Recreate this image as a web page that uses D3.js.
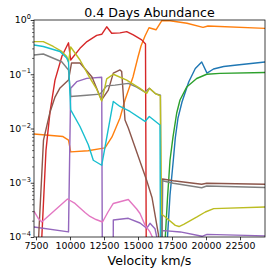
<!DOCTYPE html>
<html>
<head>
<meta charset="utf-8">
<script src="https://cdn.jsdelivr.net/npm/d3@7"></script>
<style>
  body { margin: 0; background: #fff; }
  text { font-family: "DejaVu Sans", sans-serif; }
</style>
</head>
<body>
<script>
// velocity (km/s), abundance pairs
const blue = [[16985, 6.9e-6], [17169, 1.0e-4], [17353, 5.9e-4], [17596, 2.6e-3], [17743, 6.7e-3],
  [17941, 0.0156], [18235, 0.0308], [18728, 0.072], [19213, 0.128], [19684, 0.168], [20074, 0.105],
  [20552, 0.125], [21301, 0.139], [22279, 0.148], [24338, 0.168]];
const orange = [[7353, 0.0079], [9485, 0.0071], [9890, 0.0061], [10051, 0.0037], [11324, 0.0039],
  [12353, 0.0043], [12574, 0.0044], [13088, 0.0070], [13676, 0.0156], [14044, 0.0335], [14632, 0.089],
  [15000, 0.208], [15221, 0.332], [15515, 0.507], [15809, 0.72], [16324, 0.66], [16765, 0.98],
  [17353, 0.97], [18603, 0.87], [19779, 0.73], [20147, 0.775], [24338, 0.70]];
const green = [[16838, 3e-6], [17007, 1e-4], [17169, 5.2e-4], [17353, 2.6e-3], [17574, 7.0e-3],
  [17846, 0.0193], [18088, 0.0335], [18581, 0.058], [19316, 0.0835], [20051, 0.10], [21029, 0.104],
  [24338, 0.108]];
const red = [[7353, 1e-7], [8235, 0.0040], [8529, 0.020], [8897, 0.078], [9412, 0.217], [9890, 0.38],
  [10051, 0.183], [10735, 0.30], [11250, 0.40], [11963, 0.52], [12331, 0.545], [12699, 0.75],
  [13066, 0.57], [13676, 0.58], [14169, 0.61], [14654, 0.53], [15272, 0.43], [15551, 0.36], [15662, 1e-8]];
const purple = [[7353, 1.53e-4], [9890, 1.24e-4], [10051, 0.055], [10493, 0.073], [11228, 0.084],
  [12331, 0.088], [12412, 1e-7], [13147, 1e-7], [13184, 2.06e-4], [14287, 2.21e-4], [15147, 1.81e-4],
  [15640, 1.45e-4], [15882, 1.79e-4], [16250, 1.42e-4], [16581, 5.8e-5], [16765, 1.29e-4],
  [16912, 1.31e-4], [18110, 1.24e-4], [19706, 1.03e-4], [20074, 1.12e-4], [24338, 1.05e-4]];
const brown = [[7353, 2e-6], [8051, 0.0061], [8529, 0.020], [8897, 0.038], [9265, 0.056], [9890, 0.078],
  [10110, 0.161], [10735, 0.161], [11618, 0.089], [12316, 0.0335], [12816, 0.051], [13184, 0.105],
  [13676, 0.12], [13801, 0.112], [14044, 0.0143], [14287, 0.0102], [15640, 0.0011], [16029, 5.35e-4],
  [16507, 1.09e-4], [16728, 1e-7], [16801, 0.00117], [17596, 0.00109], [19684, 0.00094],
  [20051, 0.00098], [24338, 0.00094]];
const pink = [[7353, 3.0e-4], [7647, 2.24e-4], [7919, 1.89e-4], [9816, 5.0e-4], [10000, 4.71e-4],
  [10368, 4.15e-4], [10735, 3.43e-4], [11103, 2.83e-4], [11471, 2.39e-4], [11912, 2.1e-4],
  [12390, 1.89e-4], [12794, 2.89e-4], [13184, 4.15e-4], [14287, 4.91e-4], [14904, 3.28e-4],
  [15147, 2.71e-4], [15515, 1.66e-4], [15882, 1.24e-4], [16324, 7.1e-5], [16765, 1e-6]];
const gray = [[7353, 0.226], [8037, 0.236], [9390, 0.170], [9890, 0.12], [10051, 0.039], [11228, 0.041],
  [12206, 0.043], [12699, 0.061], [13309, 0.063], [14287, 0.068], [14904, 0.058], [15515, 0.047],
  [15831, 0.055], [16272, 0.044], [16654, 0.041], [16728, 1e-7], [16801, 0.00109], [17596, 0.00098],
  [19684, 0.00081], [20051, 0.00087], [24338, 0.00082]];
const olive = [[7353, 0.40], [8037, 0.40], [8772, 0.325], [9390, 0.263], [9757, 0.212], [9890, 0.168],
  [10051, 0.318], [10735, 0.183], [11471, 0.085], [11963, 0.053], [12331, 0.032], [12699, 0.082],
  [13184, 0.10], [14169, 0.078], [15147, 0.055], [15640, 0.0445], [15846, 0.055], [16272, 0.044],
  [16640, 0.040], [16728, 2.65e-4], [17007, 2.34e-4], [17743, 1.64e-4], [18015, 1.56e-4],
  [18360, 1.71e-4], [19338, 2.34e-4], [19949, 2.89e-4], [20566, 3.33e-4], [24338, 3.57e-4]];
const cyan = [[7353, 0.346], [8037, 0.325], [9265, 0.263], [9757, 0.20], [9890, 0.168], [10051, 0.022],
  [10735, 0.0109], [11346, 0.0050], [11713, 0.0026], [12331, 0.0021], [13184, 0.0315], [13676, 0.0255],
  [14412, 0.0206], [15515, 0.0135], [15831, 0.0166], [16618, 0.0116], [16691, 1e-7]];

const xTicks = [7500, 10000, 12500, 15000, 17500, 20000, 22500];
const yTicks = [1e-4, 1e-3, 1e-2, 1e-1, 1];
const yExponents = ['\u22124', '\u22123', '\u22122', '\u22121', '0'];

const width = 274, height = 274;
const margin = {top: 20, right: 9, bottom: 37, left: 34};

const x = d3.scaleLinear().domain([7353, 24338]).range([margin.left, width - margin.right]);
const y = d3.scaleLog().domain([1e-4, 1]).range([height - margin.bottom, margin.top]);

const svg = d3.select('body').append('svg')
  .attr('width', width)
  .attr('height', height);

svg.append('defs').append('clipPath')
  .attr('id', 'clip')
  .append('rect')
  .attr('x', margin.left)
  .attr('y', margin.top)
  .attr('width', width - margin.left - margin.right)
  .attr('height', height - margin.top - margin.bottom);

const series = [
  [blue, '#1f77b4'], [orange, '#ff7f0e'], [green, '#2ca02c'], [red, '#d62728'], [purple, '#9467bd'],
  [brown, '#8c564b'], [pink, '#e377c2'], [gray, '#7f7f7f'], [olive, '#bcbd22'], [cyan, '#17becf'],
];

const line = d3.line()
  .x(d => x(d[0]))
  .y(d => y(d[1]));

svg.append('g')
  .attr('clip-path', 'url(#clip)')
  .selectAll('path')
  .data(series)
  .join('path')
  .attr('d', d => line(d[0]))
  .attr('stroke', d => d[1])
  .attr('stroke-width', 1.4)
  .attr('stroke-linejoin', 'round')
  .attr('fill', 'none');

// x axis
const xAxis = svg.append('g')
  .attr('transform', `translate(0,${height - margin.bottom})`)
  .call(d3.axisBottom(x).tickValues(xTicks).tickSize(3.3).tickPadding(2).tickFormat(d3.format('d')));
xAxis.select('.domain').remove();
xAxis.selectAll('line').attr('stroke', '#000').attr('stroke-width', 0.75);
xAxis.selectAll('text')
  .attr('fill', '#000')
  .style('font-size', '9.4px')
  .style('font-family', '"DejaVu Sans", sans-serif');

// y axis, major and minor ticks
const minor = [];
for (let e = -4; e < 0; e++) {
  for (let m = 2; m <= 9; m++) minor.push(m * Math.pow(10, e));
}
const yMinor = svg.append('g')
  .attr('transform', `translate(${margin.left},0)`)
  .call(d3.axisLeft(y).tickValues(minor).tickSize(1.9).tickFormat(''));
yMinor.select('.domain').remove();
yMinor.selectAll('line').attr('stroke', '#000').attr('stroke-width', 0.6);

const yAxis = svg.append('g')
  .attr('transform', `translate(${margin.left},0)`)
  .call(d3.axisLeft(y).tickValues(yTicks).tickSize(3.3).tickFormat(''));
yAxis.select('.domain').remove();
yAxis.selectAll('line').attr('stroke', '#000').attr('stroke-width', 0.75);

const yLabels = svg.append('g')
  .selectAll('text')
  .data(yTicks)
  .join('text')
  .attr('x', 31)
  .attr('y', d => y(d) + 3.4)
  .attr('text-anchor', 'end')
  .style('font-size', '9.4px');
yLabels.append('tspan').text('10');
yLabels.append('tspan')
  .attr('dy', -4.2)
  .style('font-size', '6.6px')
  .text((d, i) => yExponents[i]);

// frame
svg.append('rect')
  .attr('x', margin.left)
  .attr('y', margin.top)
  .attr('width', width - margin.left - margin.right)
  .attr('height', height - margin.top - margin.bottom)
  .attr('fill', 'none')
  .attr('stroke', '#000')
  .attr('stroke-width', 0.75);

svg.append('text')
  .attr('x', (margin.left + width - margin.right) / 2)
  .attr('y', 17)
  .attr('text-anchor', 'middle')
  .style('font-size', '12.6px')
  .text('0.4 Days Abundance');

svg.append('text')
  .attr('x', (margin.left + width - margin.right) / 2)
  .attr('y', 265)
  .attr('text-anchor', 'middle')
  .style('font-size', '12.6px')
  .text('Velocity km/s');
</script>
</body>
</html>
